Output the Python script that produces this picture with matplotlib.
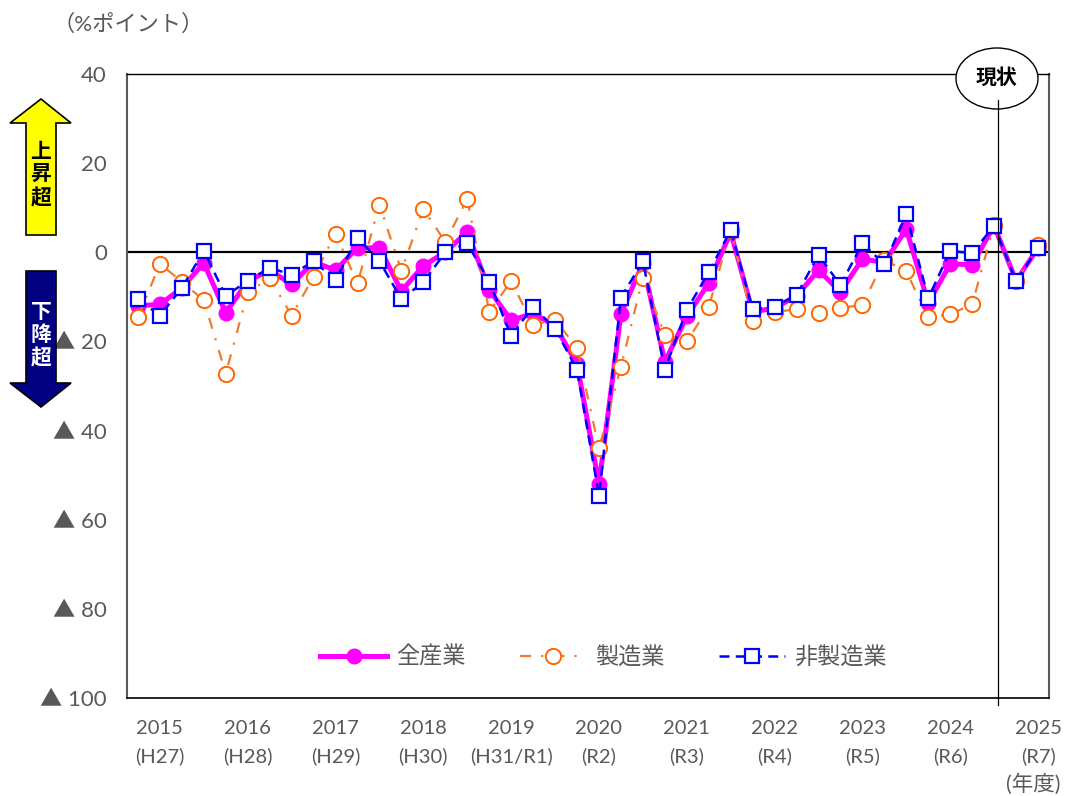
#DI chart, quarterly, 2015 to 2025

import matplotlib
matplotlib.use('Agg')
import matplotlib.pyplot as plt
from matplotlib.lines import Line2D
from matplotlib.patches import Ellipse, Polygon

plt.rcParams['font.family'] = ['Lato', 'Noto Sans CJK JP', 'DejaVu Sans']

W, H = 1067, 796

all_ind = [-12, -11.7, -8, -2.4, -13.6, -6.5, -4, -7.2, -2.2, -4, 1, 1, -8.7, -3, 0, 4.6,
           -8.4, -15.3, -13.7, -16.5, -25, -52, -13.8, -2.5, -24.6, -14.4, -6.9, 4.5,
           -13.4, -12.5, -9.8, -4, -8.9, -1.5, -2.3, 5.2, -11.4, -2.6, -2.8, 6, -6.4, 1]
manuf = [-14.6, -2.6, -6.6, -10.8, -27.2, -9, -5.8, -14.2, -5.5, 4.2, -7, 10.7, -4.2, 9.8, 2.3, 12,
         -13.3, -6.5, -16.3, -15.1, -21.5, -44, -25.7, -5.7, -18.5, -20, -12.3, 5,
         -15.4, -13.5, -12.7, -13.6, -12.5, -11.8, -1.7, -4.3, -14.6, -13.9, -11.7, 6.2, -6.5, 1.7]
non_manuf = [-10.5, -14.2, -8, 0.3, -9.8, -6.4, -3.5, -5, -2, -6.2, 3.2, -2, -10.5, -6.7, 0, 2,
             -6.6, -18.7, -12.2, -17.2, -26.3, -54.6, -10.2, -2, -26.3, -12.9, -4.5, 5,
             -12.8, -12.2, -9.6, -0.6, -7.4, 2, -2.7, 8.5, -10.3, 0.3, -0.2, 6, -6.5, 1]
years = ['2015\n(H27)', '2016\n(H28)', '2017\n(H29)', '2018\n(H30)', '2019\n(H31/R1)', '2020\n(R2)',
         '2021\n(R3)', '2022\n(R4)', '2023\n(R5)', '2024\n(R6)', '2025\n(R7)']
y_ticks = [40, 20, 0, -20, -40, -60, -80, -100]
y_labels = ['40', '20', '0', '▲ 20', '▲ 40', '▲ 60', '▲ 80', '▲ 100']
grey = '#595959'


def px(x, y):
    return x / W, 1 - y / H


fig = plt.figure(figsize=(W / 100, H / 100), dpi=100)
ax = fig.add_axes([127 / W, 1 - 698 / H, 922 / W, 624 / H])

q = list(range(len(all_ind)))
ax.axhline(0, color='black', lw=1.6, zorder=1)
ax.plot(q, all_ind, color='#FF00FF', lw=3.6, marker='o', ms=10.5, label='全産業', zorder=2)
ax.plot(q, manuf, color='#ED7D31', lw=1.6, ls=(0, (5, 4.5, 1, 4.5)), marker='o', ms=11, mfc='white',
        mec='#FF6600', mew=1.4, label='製造業', zorder=3)
ax.plot(q, non_manuf, color='#0000FF', lw=1.8, ls=(0, (4, 2.5)), marker='s', ms=10, mfc='white',
        mec='#0000FF', mew=1.6, label='非製造業', zorder=4)

ax.set_xlim(-0.5, 41.5)
ax.set_ylim(-100, 40)
ax.set_yticks(y_ticks)
ax.set_yticklabels(y_labels, fontsize=16, color=grey)
ax.set_xticks(q[1::4])
ax.set_xticklabels(years, fontsize=14.5, color=grey, linespacing=1.7)
ax.tick_params(axis='both', length=0)
ax.tick_params(axis='x', pad=15.5)
ax.tick_params(axis='y', pad=14.5)
ax.spines['top'].set_linewidth(1.0)
ax.spines['bottom'].set_linewidth(1.2)
ax.spines['left'].set_color(grey)
ax.spines['left'].set_linewidth(1.5)
ax.spines['right'].set_color(grey)
ax.spines['right'].set_linewidth(1.5)

leg = ax.legend(loc='center', bbox_to_anchor=(0.517, 0.066), ncol=3, frameon=False, fontsize=16.7,
                handlelength=2.85, handletextpad=0.4, columnspacing=2.35, numpoints=1, labelcolor=grey)

fig.text(*px(128, 24), '（%ポイント）', fontsize=16, color=grey, ha='center', va='center')
fig.text(*px(1033, 784), '(年度)', fontsize=15.5, color=grey, ha='center', va='center')

# arrows
up = [(41, 99), (71, 123), (56, 123), (56, 235), (26, 235), (26, 123), (10, 123)]
down = [(41, 407), (71, 383), (56, 383), (56, 271), (26, 271), (26, 383), (10, 383)]
fig.add_artist(Polygon([px(*p) for p in up], closed=True, fc='#FFFF00', ec='black', lw=1.2,
                       transform=fig.transFigure))
fig.add_artist(Polygon([px(*p) for p in down], closed=True, fc='#000080', ec='black', lw=1.2,
                       transform=fig.transFigure))
fig.text(*px(41, 175), '上\n昇\n超', fontsize=15, fontweight='bold', color='black',
         ha='center', va='center', linespacing=1.18)
fig.text(*px(41, 335), '下\n降\n超', fontsize=15, fontweight='bold', color='white',
         ha='center', va='center', linespacing=1.18)

# current marker
fig.add_artist(Line2D([997.5 / W, 997.5 / W], [1 - 705 / H, 1 - 100 / H], color='black', lw=0.9,
                      transform=fig.transFigure))
fig.add_artist(Ellipse(px(997, 78.5), 82 / W, 61 / H, fc='white', ec='black', lw=1.0,
                       transform=fig.transFigure))
fig.text(*px(997, 78), '現状', fontsize=15, fontweight='bold', color='black', ha='center', va='center')

fig.savefig('out.png', dpi=100)
